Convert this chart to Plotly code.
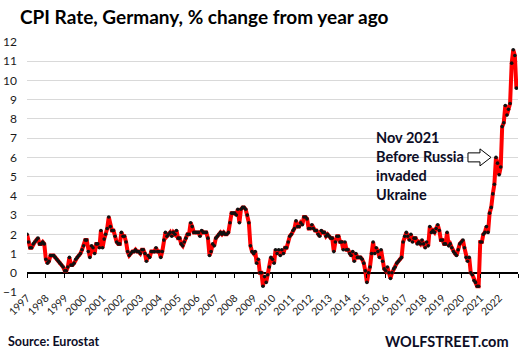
import pandas as pd
import plotly.graph_objects as go

# Monthly HICP annual rate, Germany (% change from year ago), Jan..Dec of each year
y1997 = [2.0, 1.6, 1.3, 1.3, 1.5, 1.6, 1.7, 1.8, 1.5, 1.5, 1.6, 1.5]
y1998 = [0.7, 0.5, 0.6, 0.9, 0.9, 0.9, 0.8, 0.7, 0.6, 0.5, 0.4, 0.3]
y1999 = [0.1, 0.1, 0.3, 0.8, 0.4, 0.4, 0.5, 0.7, 0.8, 0.9, 1.0, 1.2]
y2000 = [1.4, 1.7, 1.7, 1.1, 0.8, 1.4, 1.3, 1.0, 1.5, 1.5, 1.3, 2.2]
y2001 = [1.3, 1.75, 2.0, 2.3, 2.9, 2.4, 2.2, 2.2, 1.9, 1.6, 1.5, 1.5]
y2002 = [2.1, 1.9, 1.9, 1.6, 1.1, 0.9, 1.0, 1.1, 1.1, 1.2, 1.1, 1.1]
y2003 = [1.0, 1.2, 1.2, 1.0, 0.6, 0.9, 0.8, 1.1, 1.1, 1.1, 1.3, 1.1]
y2004 = [1.1, 0.8, 1.1, 1.7, 2.1, 1.9, 2.0, 2.1, 1.9, 2.1, 2.0, 2.2]
y2005 = [1.8, 1.8, 1.5, 1.4, 1.6, 1.8, 2.0, 2.0, 2.6, 2.4, 2.1, 2.1]
y2006 = [2.1, 2.1, 1.9, 2.2, 2.1, 2.1, 2.1, 1.8, 0.9, 1.1, 1.5, 1.4]
y2007 = [1.8, 1.9, 2.0, 2.1, 2.0, 2.1, 2.0, 2.0, 2.1, 2.6, 3.1, 3.1]
y2008 = [3.1, 3.0, 3.3, 2.6, 3.3, 3.4, 3.4, 3.3, 3.0, 2.6, 1.4, 1.1]
y2009 = [1.0, 1.1, 0.5, 0.7, 0.0, 0.0, -0.7, -0.2, -0.5, -0.1, 0.3, 0.8]
y2010 = [0.7, 0.5, 1.2, 1.0, 1.2, 0.9, 1.2, 1.0, 1.3, 1.3, 1.6, 1.9]
y2011 = [2.0, 2.2, 2.3, 2.7, 2.4, 2.4, 2.6, 2.5, 2.9, 2.9, 2.8, 2.3]
y2012 = [2.3, 2.5, 2.3, 2.2, 2.2, 2.0, 1.9, 2.2, 2.1, 2.1, 1.9, 2.0]
y2013 = [1.9, 1.8, 1.8, 1.1, 1.6, 1.9, 1.9, 1.6, 1.6, 1.2, 1.6, 1.2]
y2014 = [1.2, 1.0, 0.9, 1.1, 0.6, 1.0, 0.8, 0.8, 0.8, 0.7, 0.5, 0.1]
y2015 = [-0.5, 0.0, 0.3, 1.0, 1.6, 1.0, 1.3, 1.1, 0.8, 1.2, 0.6, 0.2]
y2016 = [0.1, 0.3, 0.0, -0.3, 0.0, 0.2, 0.3, 0.5, 0.6, 0.7, 0.8, 1.6]
y2017 = [1.9, 2.1, 1.9, 1.7, 2.0, 1.6, 1.8, 1.8, 1.5, 1.6, 1.5, 1.7]
y2018 = [1.5, 1.3, 1.6, 1.4, 2.4, 2.1, 2.2, 2.1, 2.3, 2.5, 2.2, 1.7]
y2019 = [1.7, 1.5, 1.5, 2.1, 1.4, 1.5, 1.3, 1.1, 1.0, 0.9, 1.2, 1.5]
y2020 = [1.6, 1.7, 1.3, 0.8, 0.6, 0.8, 0.0, -0.1, -0.4, -0.5, -0.7, -0.7]
y2021 = [1.6, 1.6, 2.0, 2.1, 2.4, 2.1, 3.1, 3.4, 4.1, 4.6, 6.0, 5.7]
y2022 = [5.1, 5.5, 7.6, 7.8, 8.7, 8.2, 8.5, 8.8, 10.9, 11.6, 11.3, 9.6]

years = list(range(1997, 2023))
year_labels = [str(y) for y in years]
y_ticks = list(range(-1, 13))

series = (y1997 + y1998 + y1999 + y2000 + y2001 + y2002 + y2003 + y2004 + y2005
          + y2006 + y2007 + y2008 + y2009 + y2010 + y2011 + y2012 + y2013 + y2014
          + y2015 + y2016 + y2017 + y2018 + y2019 + y2020 + y2021 + y2022)
months = pd.date_range("1997-01-01", periods=len(series), freq="MS")

# ticks at every year boundary (Jan 1997 .. Jan 2023), labels for 1997..2022
tick_bounds = [f"{y}-01-01" for y in years] + [f"{years[-1] + 1}-01-01"]
tick_text = year_labels + [""]
x_range = [tick_bounds[0], tick_bounds[-1]]
y_range = [y_ticks[0], y_ticks[-1]]

FONT = "Lato, 'Open Sans', sans-serif"
INK = "#0d0d26"

fig = go.Figure()
fig.add_trace(go.Scatter(
    x=months, y=series, mode="lines+markers",
    line=dict(color="#ff0000", width=4),
    marker=dict(color="#111111", size=3.6),
    hoverinfo="skip", showlegend=False,
))

zero_pos = (0 - y_range[0]) / (y_range[1] - y_range[0])

fig.update_layout(
    width=520, height=352,
    margin=dict(l=27, r=2, t=42, b=60),
    paper_bgcolor="white", plot_bgcolor="white",
    font=dict(family=FONT, color="#1a1a1a"),
    title=dict(text="<b>CPI Rate, Germany, % change from year ago</b>",
               font=dict(family=FONT, size=19, color="#000000"),
               xref="container", yref="container", x=20 / 520, xanchor="left",
               y=1 - 17 / 352, yanchor="middle"),
    xaxis=dict(range=x_range, anchor="free", position=zero_pos,
               showgrid=False, zeroline=False, showline=False,
               tickmode="array", tickvals=tick_bounds, ticktext=tick_text,
               ticks="outside", ticklen=4, tickwidth=1, tickcolor="#000000",
               tickangle=-45, ticklabelstandoff=10,
               tickfont=dict(family=FONT, size=10.5, color="#1a1a1a")),
    yaxis=dict(range=y_range, tickmode="array", tickvals=y_ticks,
               showgrid=True, gridcolor="#d9d9d9", gridwidth=1,
               zeroline=True, zerolinecolor="#000000", zerolinewidth=1.5,
               showline=False, ticks="", ticklabelstandoff=9,
               tickfont=dict(family=FONT, size=12, color="#1a1a1a")),
)

nov_idx = months.get_loc(pd.Timestamp("2021-11-01"))
fig.add_shape(type="path", xref="x", yref="y",
              xsizemode="pixel", ysizemode="pixel",
              xanchor=months[nov_idx], yanchor=series[nov_idx],
              path="M-28,-4.5 L-16,-4.5 L-16,-8.5 L-5,0 L-16,8.5 L-16,4.5 L-28,4.5 Z",
              fillcolor="white", line=dict(color="#000000", width=1))

fig.add_annotation(text="<b>Nov 2021<br>Before Russia<br>invaded<br>Ukraine</b>",
                   xref="paper", yref="paper", x=(374 - 27) / 491, y=(292 - 166) / 250,
                   xanchor="left", yanchor="middle", align="left", showarrow=False,
                   font=dict(family=FONT, size=14.5, color=INK))
fig.add_annotation(text="<b>Source: Eurostat</b>",
                   xref="paper", yref="paper", x=(6 - 27) / 491, y=(292 - 341) / 250,
                   xanchor="left", yanchor="middle", showarrow=False,
                   font=dict(family=FONT, size=12.5, color=INK))
fig.add_annotation(text="<b>WOLFSTREET.com</b>",
                   xref="paper", yref="paper", x=(511 - 27) / 491, y=(292 - 341) / 250,
                   xanchor="right", yanchor="middle", showarrow=False,
                   font=dict(family=FONT, size=14.5, color=INK))

fig.write_html("out.html")
